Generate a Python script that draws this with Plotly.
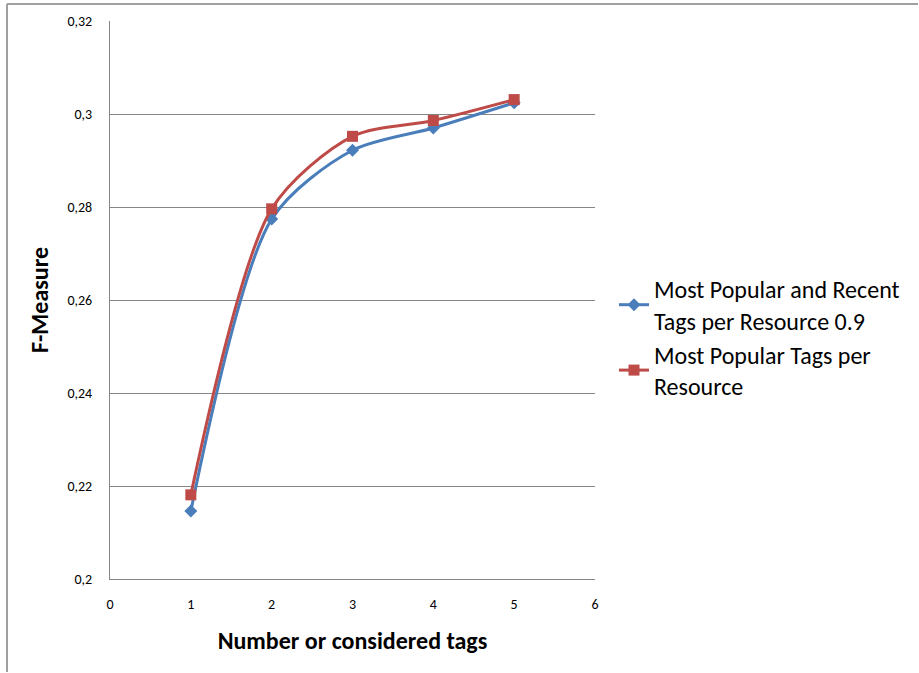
import plotly.graph_objects as go

x_vals = [1, 2, 3, 4, 5]
series_a_name = "Most Popular and Recent<br>Tags per Resource 0.9"
series_a = [0.2146, 0.2774, 0.2922, 0.2970, 0.3024]
series_b_name = "Most Popular Tags per<br>Resource"
series_b = [0.2181, 0.2796, 0.2952, 0.2986, 0.3031]
y_ticks = [0.2, 0.22, 0.24, 0.26, 0.28, 0.3, 0.32]
y_tick_labels = ["0,2", "0,22", "0,24", "0,26", "0,28", "0,3", "0,32"]
x_ticks = [0, 1, 2, 3, 4, 5, 6]

FONT = "Carlito, Lato, Open Sans, sans-serif"

fig = go.Figure()
fig.add_trace(go.Scatter(
    x=x_vals, y=series_a, name=series_a_name, mode="lines+markers",
    line=dict(color="#4A7EBB", width=3, shape="spline", smoothing=0.8),
    marker=dict(symbol="diamond", size=10, color="#4A7EBB"),
))
fig.add_trace(go.Scatter(
    x=x_vals, y=series_b, name=series_b_name, mode="lines+markers",
    line=dict(color="#BE4B48", width=3, shape="spline", smoothing=0.8),
    marker=dict(symbol="square", size=11, color="#BE4B48"),
))

W, H = 919, 673
ml, mt = 110, 21
pw, ph = 485, 558
mr = W - ml - pw
mb = H - mt - ph

def px(xp):
    return (xp - ml) / pw

def py(yp):
    return (H - mb - yp) / ph

fig.update_layout(
    width=W, height=H,
    margin=dict(l=ml, r=mr, t=mt, b=mb),
    paper_bgcolor="white", plot_bgcolor="white",
    font=dict(family=FONT, color="#000000"),
    showlegend=True,
    legend=dict(x=px(614), y=py(267), xanchor="left", yanchor="top",
                font=dict(size=24, family=FONT), tracegroupgap=13,
                itemwidth=30, bgcolor="rgba(0,0,0,0)"),
    xaxis=dict(range=[0, 6], tickvals=x_ticks, showgrid=False,
               showline=True, linecolor="#868686", linewidth=1,
               ticks="", tickfont=dict(size=14, family=FONT),
               ticklabelstandoff=12,
               title=dict(text="<b>Number or considered tags</b>",
                          font=dict(size=24, family=FONT), standoff=20),
               zeroline=False),
    yaxis=dict(range=[0.2, 0.32], tickvals=y_ticks, ticktext=y_tick_labels,
               showgrid=True, gridcolor="#868686", gridwidth=1,
               showline=True, linecolor="#868686", linewidth=1,
               ticks="", tickfont=dict(size=14, family=FONT),
               ticklabelstandoff=14,
               title=dict(text="<b>F-Measure</b>",
                          font=dict(size=24, family=FONT), standoff=12),
               zeroline=False),
    shapes=[
        dict(type="line", xref="paper", yref="paper",
             x0=px(7), x1=px(7), y0=py(672), y1=py(4),
             line=dict(color="#A0A0A0", width=2), layer="below"),
        dict(type="line", xref="paper", yref="paper",
             x0=px(7), x1=px(918), y0=py(4), y1=py(4),
             line=dict(color="#A0A0A0", width=2), layer="below"),
    ],
)

fig.write_html(
    "out.html",
    config={"displayModeBar": False},
    post_script="document.body.style.margin='0';document.body.style.overflow='hidden';",
)
